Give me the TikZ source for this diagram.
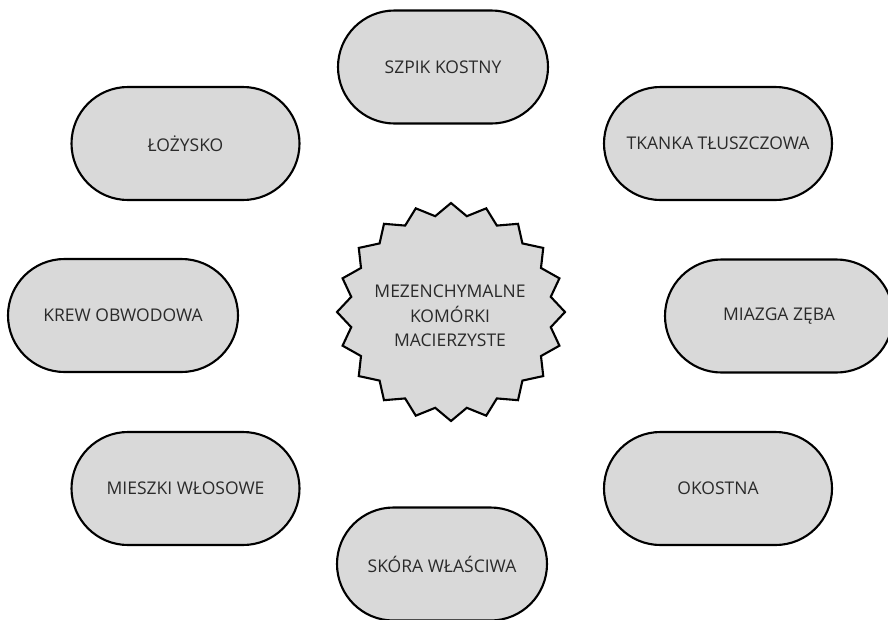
\documentclass[tikz,border=0pt]{standalone}
\usepackage{fontspec}
\setmainfont{Open Sans}
\usetikzlibrary{shapes.misc}
\definecolor{boxfill}{HTML}{D9D9D9}
\definecolor{txt}{HTML}{2A2A2A}
\begin{document}
\begin{tikzpicture}[x=1pt,y=-1pt,
  pill/.style={rounded rectangle, draw=black, line width=2.1pt, fill=boxfill,
    minimum width=228pt, minimum height=113pt, inner sep=0pt,
    text=txt, font=\fontsize{17.5}{22}\selectfont},
  narrowpill/.style={pill, minimum width=210pt},
  starline/.style={draw=black, line width=2.1pt, fill=boxfill, line join=miter},
  startext/.style={align=center, text=txt, font=\fontsize{17.5}{24.5}\selectfont, inner sep=0pt}]
\useasboundingbox (0,0) rectangle (888,619);
\node[narrowpill] (szpik) at (443,67) {SZPIK KOSTNY};
\node[pill] (lozysko) at (185.5,143.5) {ŁOŻYSKO};
\node[pill] (tkanka) at (718,143.5) {TKANKA TŁUSZCZOWA};
\node[pill, minimum width=230pt] (krew) at (123,315.5) {KREW OBWODOWA};
\node[pill] (miazga) at (779,316) {MIAZGA ZĘBA};
\node[pill] (mieszki) at (185.5,488.5) {MIESZKI WŁOSOWE};
\node[pill] (okostna) at (718,488.5) {OKOSTNA};
\node[narrowpill] (skora) at (442,564) {SKÓRA WŁAŚCIWA};
\draw[starline] plot[samples=40, domain=0:39, variable=\k]
  ({451+(mod(\k,2)==0 ? 114 : 101)*cos(90+9*\k)},
   {312-(mod(\k,2)==0 ? 109 : 97)*sin(90+9*\k)}) -- cycle;
\node[startext] (msc) at (450,316) {MEZENCHYMALNE\\KOMÓRKI\\MACIERZYSTE};
\end{tikzpicture}
\end{document}
